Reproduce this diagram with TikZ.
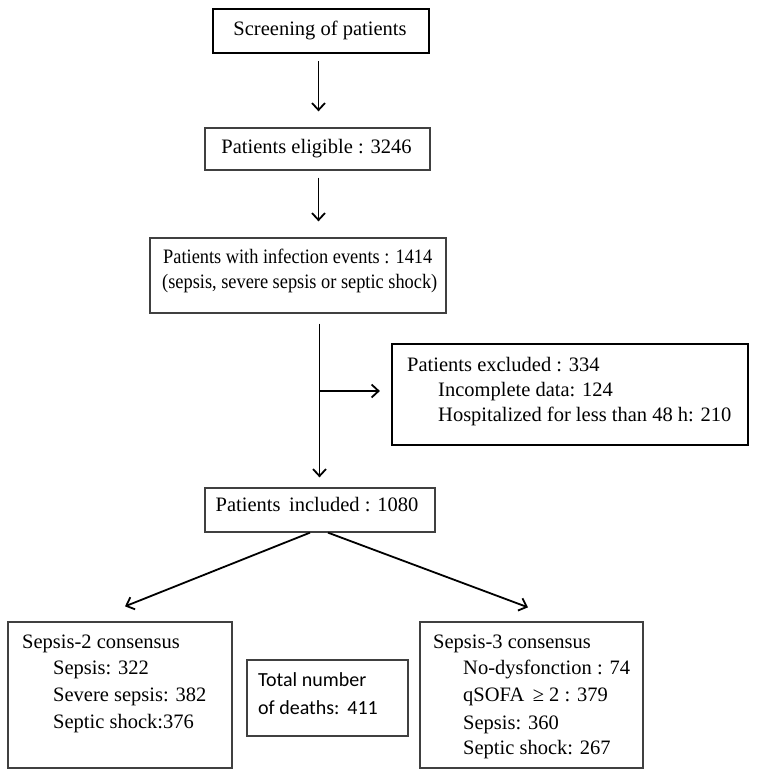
\documentclass[tikz,border=0pt]{standalone}
\usepackage{fontspec}
\setmainfont{Liberation Serif}
\newfontfamily\calfont{Carlito}
\newfontfamily\condfont[FakeStretch=0.895]{Liberation Serif}
\usetikzlibrary{arrows.meta}
\begin{document}
\begin{tikzpicture}[x=1bp,y=-1bp,
  thinbox/.style={draw=black!75, line width=1.3bp, inner sep=0pt},
  thickbox/.style={draw=black, line width=2.2bp, inner sep=0pt},
  txt/.style={inner sep=0pt, anchor=base west, font=\fontsize{20.5bp}{25bp}\selectfont},
  ctxt/.style={inner sep=0pt, anchor=base, font=\fontsize{20.5bp}{25bp}\selectfont},
  condtxt/.style={inner sep=0pt, anchor=base west, font=\condfont\fontsize{20.5bp}{25bp}\selectfont},
  sanstxt/.style={inner sep=0pt, anchor=base west, font=\calfont\fontsize{20bp}{24bp}\selectfont},
  arr/.style={line width=1.8bp, -{Straight Barb[length=7bp,width=13bp,line width=1.8bp]}}
]
\useasboundingbox (0,0) rectangle (759,778);
\fill[white] (0,0) rectangle (759,778);

% boxes
\node[thickbox, minimum width=216bp, minimum height=44bp] (screen) at (321,31) {};
\node[thinbox, minimum width=225bp, minimum height=42bp] (elig) at (317.5,149) {};
\node[thinbox, minimum width=296bp, minimum height=75bp] (infect) at (298,275.5) {};
\node[thickbox, minimum width=356bp, minimum height=101bp] (excl) at (570,394.5) {};
\node[thinbox, minimum width=230bp, minimum height=44bp] (incl) at (320,510) {};
\node[thinbox, minimum width=224bp, minimum height=146bp] (s2) at (120,695) {};
\node[thinbox, minimum width=161bp, minimum height=76bp] (total) at (327.5,698) {};
\node[thinbox, minimum width=223bp, minimum height=146bp] (s3) at (531.5,695) {};

% texts
\node[ctxt] (screent) at (320,36) {Screening of patients};
\node[ctxt] (eligt) at (316.5,153) {Patients eligible : 3246};
\node[condtxt] (inf1) at (163,263) {Patients with infection events : 1414};
\node[condtxt] (inf2) at (162,288) {(sepsis, severe sepsis or septic shock)};
\node[txt] (ex1) at (407,371) {Patients excluded : 334};
\node[txt] (ex2) at (438,396) {Incomplete data: 124};
\node[txt] (ex3) at (438,421) {Hospitalized for less than 48 h: 210};
\node[ctxt] (inclt) at (317,511) {Patients\ \,included : 1080};
\node[txt] (s2a) at (22,648) {Sepsis-2 consensus};
\node[txt] (s2b) at (53,674) {Sepsis: 322};
\node[txt] (s2c) at (53,701) {Severe sepsis: 382};
\node[txt] (s2d) at (53,728) {Septic shock:376};
\node[sanstxt] (tot1) at (258,686) {Total number};
\node[sanstxt] (tot2) at (258,714) {of deaths:\ \,411};
\node[txt] (s3a) at (433,648) {Sepsis-3 consensus};
\node[txt] (s3b) at (463,674) {No-dysfonction : 74};
\node[txt] (s3c) at (463,701) {qSOFA\ \,≥ 2 : 379};
\node[txt] (s3d) at (463,729) {Sepsis: 360};
\node[txt] (s3e) at (463,754) {Septic shock: 267};

% connectors
\coordinate (ax) at (318.5,0);
\coordinate (bx) at (319.5,0);
\coordinate (br) at (319.5,391);
\draw[arr, shorten <=7bp, shorten >=16bp] (screen.south -| ax) -- (elig.north -| ax);
\draw[arr, shorten <=7bp, shorten >=16bp] (elig.south -| ax) -- (infect.north -| ax);
\draw[arr, shorten <=10bp, shorten >=10bp] (infect.south -| bx) -- (incl.north -| bx);
\draw[arr, shorten >=11bp] (br) -- (br -| excl.west);
\draw[arr] ([xshift=-10bp]incl.south) -- ([xshift=5bp,yshift=15bp]s2.north);
\draw[arr] ([xshift=8bp]incl.south) -- ([xshift=-3.5bp,yshift=14bp]s3.north);
\end{tikzpicture}
\end{document}
